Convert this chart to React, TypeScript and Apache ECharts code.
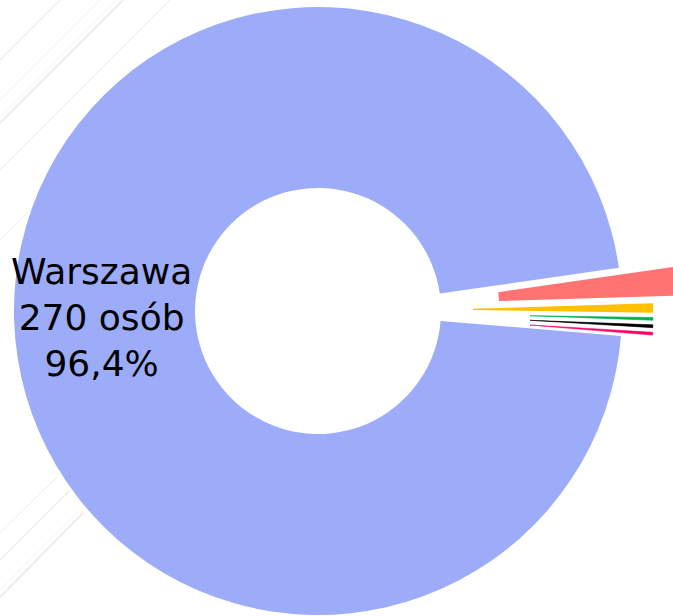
import React, { useEffect, useRef } from "react";
import * as echarts from "echarts";

const categories = ["Warszawa", "Inne A", "Inne B", "Inne C", "Inne D", "Inne E"];
const values = [270, 5, 2, 1, 1, 1];
const colors = ["#9DACF9", "#FF7373", "#FFC000", "#00B050", "#000000", "#FF0066"];
const unit = "osób";

// exploded slice placement: [centerX, centerY, innerR, outerR] per small slice
const explode: Record<number, [number, number, number, number]> = {
  1: [419, 303.5, 80, 300],
  2: [446, 309.6, 27, 207],
  3: [530, 315.7, 0, 123],
  4: [530, 320.3, 0, 123],
  5: [530, 325, 0, 123],
};

const START = -4.7;
const FONT = "'DejaVu Sans', sans-serif";

function stripeLines() {
  const segs: number[][] = [
    [0, 123, 123, 0],
    [0, 117, 117, 0],
    [0, 100, 100, 0],
    [0, 60, 60, 0],
    [0, 170, 170, 0],
    [0, 240, 110, 130],
    [0, 597, 83, 513],
    [0, 590, 78, 512],
    [0, 533, 57, 477],
    [0, 560, 70, 490],
  ];
  return segs.map((s, i) => ({
    type: "line",
    z: 0,
    silent: true,
    shape: { x1: s[0], y1: s[1], x2: s[2], y2: s[3] },
    style: { stroke: i % 2 ? "#f3f3f3" : "#ededed", lineWidth: i % 3 === 0 ? 2 : 1 },
  }));
}

export default function App() {
  const ref = useRef<HTMLDivElement>(null);
  useEffect(() => {
    if (!ref.current) return;
    const chart = echarts.init(ref.current, undefined, { renderer: "svg" });

    const total = values.reduce((a, b) => a + b, 0);

    const mainSeries = {
      type: "pie",
      z: 2,
      silent: true,
      center: [318, 311],
      radius: [123, 304],
      startAngle: START,
      clockwise: true,
      avoidLabelOverlap: false,
      label: {
        show: true,
        position: "inside",
        color: "#000",
        fontFamily: FONT,
        fontSize: 36,
        lineHeight: 46,
        formatter: (p: any) =>
          `${p.name}\n${p.value} ${unit}\n${((p.value / total) * 100).toFixed(1).replace(".", ",")}%`,
      },
      labelLine: { show: false },
      emphasis: { disabled: true },
      data: categories.map((n, i) => ({
        name: n,
        value: values[i],
        itemStyle: { color: i === 0 ? colors[0] : "rgba(0,0,0,0)" },
        label: { show: i === 0 },
      })),
    };

    const smallSeries = Object.keys(explode).map((k) => {
      const idx = Number(k);
      const [cx, cy, r0, r1] = explode[idx];
      const thin = values[idx] === 1;
      return {
        type: "pie",
        z: 3,
        silent: true,
        center: [cx, cy],
        radius: [r0, r1],
        startAngle: START,
        clockwise: true,
        label: { show: false },
        labelLine: { show: false },
        emphasis: { disabled: true },
        data: categories.map((n, i) => ({
          name: n,
          value: values[i],
          itemStyle:
            i === idx
              ? {
                  color: colors[i],
                  borderColor: colors[i],
                  borderWidth: thin ? 0.6 : 0,
                }
              : { color: "rgba(0,0,0,0)", borderWidth: 0 },
        })),
      };
    });

    chart.setOption({
      animation: false,
      backgroundColor: "#ffffff",
      graphic: stripeLines(),
      series: [mainSeries, ...smallSeries],
    });
    return () => chart.dispose();
  }, []);

  return (
    <div
      ref={ref}
      style={{ position: "absolute", left: 0, top: 0, width: 673, height: 616 }}
    />
  );
}
